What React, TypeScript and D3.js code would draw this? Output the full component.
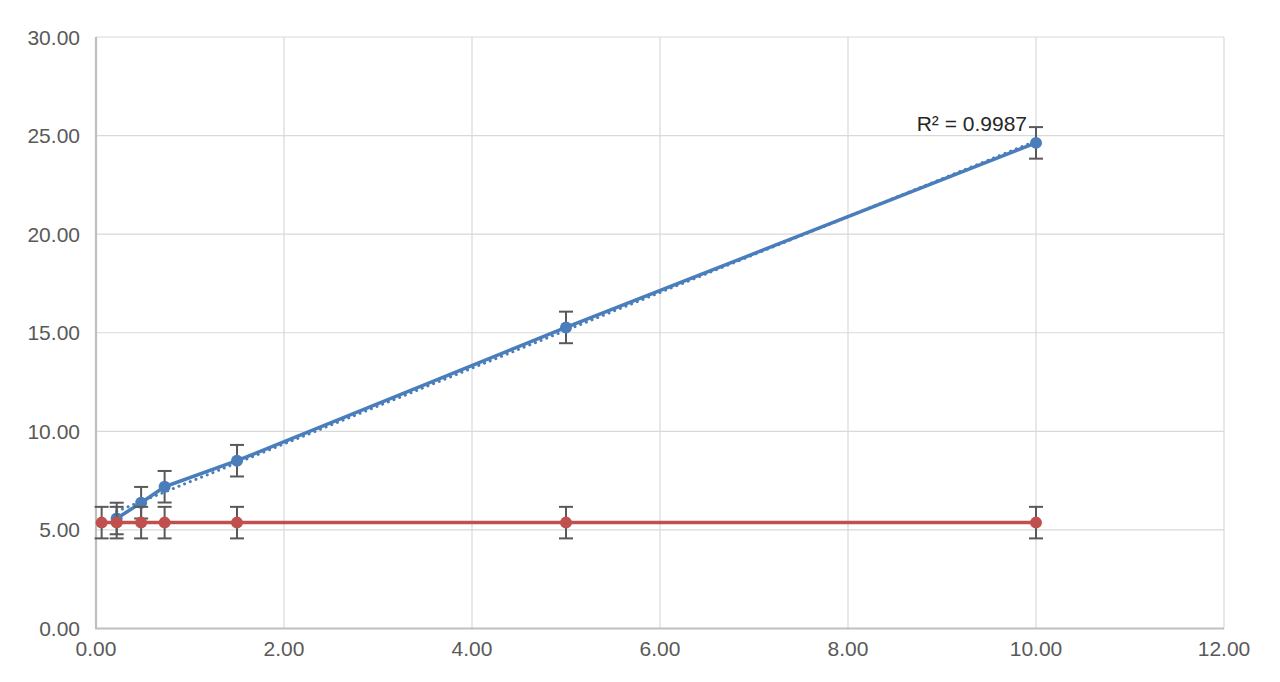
import React from "react";
import * as d3 from "d3";

const xTicks = [0, 2, 4, 6, 8, 10, 12];
const yTicks = [0, 5, 10, 15, 20, 25, 30];

const blueX = [0.22, 0.48, 0.73, 1.5, 5, 10];
const blueY = [5.58, 6.38, 7.19, 8.51, 15.27, 24.63];
const redX = [0.06, 0.22, 0.48, 0.73, 1.5, 5, 10];
const redY = [5.37, 5.37, 5.37, 5.37, 5.37, 5.37, 5.37];
const errorAmount = [0.8];
const r2Label = "R² = 0.9987";

const W = 1280;
const H = 682;
const M = { left: 96, right: 1224, top: 37, bottom: 628.5 };
const BLUE = "#4a7ebb";
const RED = "#c0504d";
const TEXT = "#595959";

export default function App() {
  const x = d3.scaleLinear().domain([0, 12]).range([M.left, M.right]);
  const y = d3.scaleLinear().domain([0, 30]).range([M.bottom, M.top]);
  const err = errorAmount[0];

  const blue = blueX.map((v, i) => [v, blueY[i]] as [number, number]);
  const red = redX.map((v, i) => [v, redY[i]] as [number, number]);
  const line = d3
    .line<[number, number]>()
    .x((d) => x(d[0]))
    .y((d) => y(d[1]));

  // linear trendline (least squares) from the blue data
  const mx = d3.mean(blueX)!;
  const my = d3.mean(blueY)!;
  let sxy = 0,
    sxx = 0;
  blueX.forEach((v, i) => {
    sxy += (v - mx) * (blueY[i] - my);
    sxx += (v - mx) * (v - mx);
  });
  const slope = sxy / sxx;
  const icpt = my - slope * mx;
  const x0 = d3.min(blueX)!;
  const x1 = d3.max(blueX)!;

  const errBars = (pts: [number, number][], key: string) =>
    pts.map((d, i) => (
      <g key={key + i} stroke="#595959" strokeWidth={2}>
        <line x1={x(d[0])} x2={x(d[0])} y1={y(d[1] + err)} y2={y(d[1] - err)} />
        <line x1={x(d[0]) - 7} x2={x(d[0]) + 7} y1={y(d[1] + err)} y2={y(d[1] + err)} />
        <line x1={x(d[0]) - 7} x2={x(d[0]) + 7} y1={y(d[1] - err)} y2={y(d[1] - err)} />
      </g>
    ));

  return (
    <svg
      width={W}
      height={H}
      style={{ position: "absolute", left: 0, top: 0, background: "#fff" }}
      fontFamily="'Liberation Sans', Arial, sans-serif"
    >
      {/* gridlines */}
      {yTicks.map((t) => (
        <line key={"gy" + t} x1={M.left} x2={M.right} y1={y(t)} y2={y(t)} stroke="#d9d9d9" strokeWidth={1.2} />
      ))}
      {xTicks.map((t) => (
        <line key={"gx" + t} x1={x(t)} x2={x(t)} y1={M.top} y2={M.bottom} stroke="#d9d9d9" strokeWidth={1.2} />
      ))}
      {/* axes */}
      <line x1={M.left} x2={M.left} y1={M.top} y2={M.bottom} stroke="#bfbfbf" strokeWidth={2.2} />
      <line x1={M.left - 1} x2={M.right} y1={M.bottom} y2={M.bottom} stroke="#bfbfbf" strokeWidth={2.2} />

      {yTicks.map((t) => (
        <text key={"ly" + t} x={80} y={y(t) + 7.5} textAnchor="end" fontSize={21} fill={TEXT}>
          {t.toFixed(2)}
        </text>
      ))}
      {xTicks.map((t) => (
        <text key={"lx" + t} x={x(t)} y={656} textAnchor="middle" fontSize={21} fill={TEXT}>
          {t.toFixed(2)}
        </text>
      ))}

      {/* blue series */}
      <path d={line(blue)!} fill="none" stroke={BLUE} strokeWidth={3.5} strokeLinejoin="round" />
      {errBars(blue, "be")}
      {blue.map((d, i) => (
        <circle key={"bm" + i} cx={x(d[0])} cy={y(d[1])} r={6} fill={BLUE} />
      ))}

      {/* trendline */}
      <line
        x1={x(x0)}
        y1={y(icpt + slope * x0)}
        x2={x(x1)}
        y2={y(icpt + slope * x1)}
        stroke={BLUE}
        strokeWidth={3}
        strokeDasharray="0.1 6"
        strokeLinecap="round"
      />

      {/* red series */}
      <path d={line(red)!} fill="none" stroke={RED} strokeWidth={3.5} />
      {errBars(red, "re")}
      {red.map((d, i) => (
        <circle key={"rm" + i} cx={x(d[0])} cy={y(d[1])} r={6} fill={RED} />
      ))}

      <text x={1027} y={131} textAnchor="end" fontSize={21} fill="#262626">
        {r2Label}
      </text>
    </svg>
  );
}
